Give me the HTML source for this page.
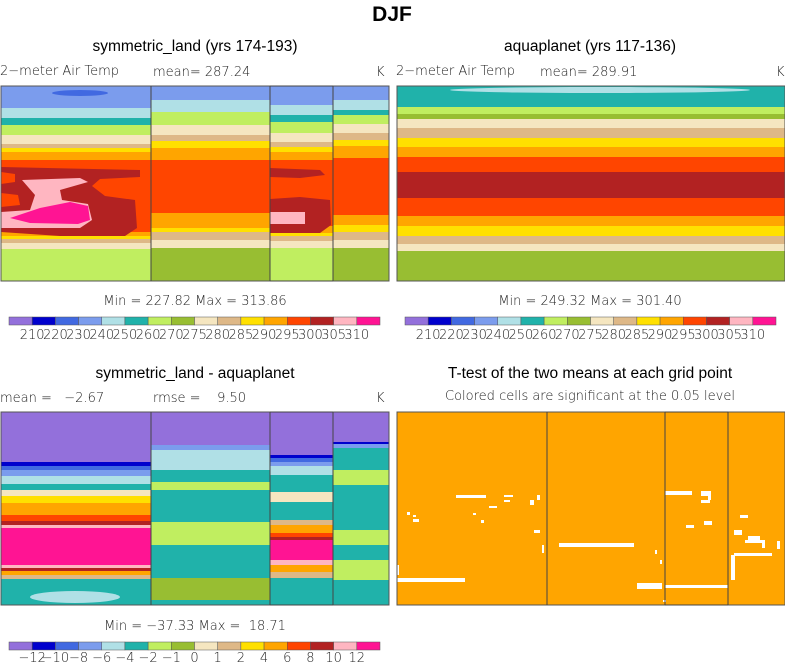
<!DOCTYPE html>
<html><head><meta charset="utf-8">
<style>
html,body{margin:0;padding:0;background:#fff;}
svg{display:block;}
.t{font-family:"Liberation Sans",sans-serif;}
.thin{font-family:"DejaVu Sans","Liberation Sans",sans-serif;font-weight:200;fill:#222;white-space:pre;}
</style></head>
<body>
<svg id="fig" width="785" height="664" viewBox="0 0 785 664" xmlns="http://www.w3.org/2000/svg" xml:space="preserve">
<text class="t" x="392" y="21" text-anchor="middle" font-size="21" font-weight="bold">DJF</text>
<text class="t" x="195" y="51" text-anchor="middle" font-size="15.5">symmetric_land (yrs 174-193)</text>
<text class="t" x="590" y="51" text-anchor="middle" font-size="15.5">aquaplanet (yrs 117-136)</text>
<text class="thin" x="0" y="75" font-size="13">2−meter Air Temp</text>
<text class="thin" x="153" y="76" font-size="13">mean= 287.24</text>
<text class="thin" x="376" y="76" font-size="13">K</text>
<text class="thin" x="396" y="75" font-size="13">2−meter Air Temp</text>
<text class="thin" x="540" y="76" font-size="13">mean= 289.91</text>
<text class="thin" x="776" y="76" font-size="13">K</text>
<text class="thin" x="195" y="305" text-anchor="middle" font-size="13">Min = 227.82 Max = 313.86</text>
<text class="thin" x="590" y="305" text-anchor="middle" font-size="13">Min = 249.32 Max = 301.40</text>
<text class="t" x="195" y="378" text-anchor="middle" font-size="15.5">symmetric_land - aquaplanet</text>
<text class="t" x="590" y="378" text-anchor="middle" font-size="15.5">T-test of the two means at each grid point</text>
<text class="thin" x="0" y="402" font-size="13">mean =   −2.67</text>
<text class="thin" x="153" y="402" font-size="13">rmse =    9.50</text>
<text class="thin" x="376" y="402" font-size="13">K</text>
<text class="thin" x="590" y="400" text-anchor="middle" font-size="13">Colored cells are significant at the 0.05 level</text>
<text class="thin" x="195" y="630" text-anchor="middle" font-size="13">Min = −37.33 Max =  18.71</text>
<g id="layer"></g>
</svg>
<script>
const palette = ["#9370DB","#0000CD","#4169E1","#7B9CED","#B0E0E6","#20B2AA","#C0EE60","#98BE32","#F5E6C0","#DEB887","#FFE000","#FFA500","#FF4500","#B22222","#FFB6C1","#FF1493"];
const absLabels = ["210","220","230","240","250","260","270","275","280","285","290","295","300","305","310"];
const diffLabels = ["−12","−10","−8","−6","−4","−2","−1","0","1","2","4","6","8","10","12"];
// Band boundaries (top y, colour index) per longitude section
const tlLand1 = [[86,3],[108,4],[118,5],[125,6],[135,8],[144,9],[148,10],[152,11],[160,12],[232,11],[236,10],[239,9],[243,8],[249,6]];
const tlOcean1 = [[86,3],[100,4],[112,6],[125,8],[135,9],[141,10],[148,11],[160,12],[213,11],[228,10],[232,9],[240,8],[248,7]];
const tlLand2 = [[86,3],[105,4],[115,5],[122,6],[133,8],[142,9],[147,10],[152,11],[160,12],[226,11],[233,10],[236,9],[241,8],[248,6]];
const tlOcean2 = [[86,3],[100,4],[110,5],[115,6],[124,8],[133,9],[140,10],[146,11],[158,12],[215,11],[225,10],[232,9],[240,8],[248,7]];
const aqua = [[86,5],[107,6],[114,7],[119,8],[128,9],[138,10],[147,11],[157,12],[172,13],[198,12],[216,11],[226,10],[236,9],[244,8],[251,7]];
const blLand1 = [[412,0],[462,1],[466,2],[470,3],[476,4],[484,5],[490,8],[496,10],[503,11],[515,12],[521,13],[525,14],[528,15],[565,14],[568,13],[571,11],[575,9],[579,5]];
const blOcean1 = [[412,0],[445,3],[450,4],[470,5],[482,6],[490,5],[522,6],[545,5],[578,7],[600,5]];
const blLand2 = [[412,0],[455,1],[458,2],[462,3],[466,4],[475,5],[492,8],[502,5],[520,9],[525,11],[533,12],[537,13],[540,15],[560,14],[565,11],[572,9],[578,5]];
const blOcean2 = [[412,0],[442,1],[444,3],[448,5],[470,6],[485,5],[530,6],[545,5],[560,6],[580,5]];
const ttestGaps = [[456,495,30,3],[504,495,9,2],[504,500,6,2],[537,495,3,5],[489,506,8,2],[473,513,3,2],[481,520,3,3],[396,578,69,4],[396,565,3,10],[559,543,75,4],[637,583,25,6],[665,585,63,3],[665,491,27,4],[701,491,10,5],[708,496,3,4],[701,500,9,3],[734,553,38,3],[731,555,4,25],[745,540,17,3],[762,540,3,8],[748,536,12,4],[734,530,8,5],[534,530,6,3],[704,521,8,4],[686,525,8,3],[542,545,2,8],[777,541,3,8],[407,512,3,3],[413,515,3,2],[413,519,6,3],[530,500,4,5],[740,515,8,3],[655,550,2,4],[660,560,2,4],[663,600,3,2]];

const NS="http://www.w3.org/2000/svg";
const layer=document.getElementById('layer');
function mk(tag,attrs,parent){const e=document.createElementNS(NS,tag);for(const k in attrs)e.setAttribute(k,attrs[k]);(parent||layer).appendChild(e);return e;}
function section(bands,x0,x1,yb,name){
  bands.forEach((b,i)=>{
    const y0=b[0], y1=i+1<bands.length?bands[i+1][0]:yb;
    const r=mk('rect',{x:x0,y:y0,width:x1-x0,height:y1-y0,fill:palette[b[1]]});
    
    
  });
}
// Panel 1
section(tlLand1,1,151,281,'p1-land1');
section(tlOcean1,151,270,281,'p1-ocean1');
section(tlLand2,270,333,281,'p1-land2');
section(tlOcean2,333,389,281,'p1-ocean2');
mk('ellipse',{cx:80,cy:93,rx:28,ry:3,fill:palette[2]});
mk('path',{d:"M1,167 L140,170 L140,177 L100,179 L92,186 L105,196 L135,200 L137,228 L125,236 L60,236 L1,232 Z",fill:palette[13]});
mk('path',{d:"M1,172 L15,174 L15,182 L1,184 Z",fill:palette[12]});
mk('path',{d:"M1,193 L18,195 L20,205 L1,207 Z",fill:palette[12]});
mk('path',{d:"M22,180 L80,178 L88,182 L60,190 L62,200 L88,204 L92,220 L80,228 L1,228 L1,212 L30,210 L35,195 Z",fill:palette[14]});
mk('path',{d:"M10,218 L40,208 L70,202 L88,206 L90,220 L78,224 L30,223 Z",fill:palette[15]});
mk('path',{d:"M270,168 L320,170 L325,175 L300,178 L270,177 Z",fill:palette[13]});
mk('path',{d:"M270,199 L300,197 L330,200 L331,225 L320,233 L270,233 Z",fill:palette[13]});
mk('path',{d:"M270,212 L305,212 L305,224 L270,224 Z",fill:palette[14]});
// Panel 2
section(aqua,397,785,281,'p2');
mk('ellipse',{cx:600,cy:90,rx:150,ry:3,fill:palette[4]});
// Panel 3
section(blLand1,1,151,605,'p3-land1');
section(blOcean1,151,270,605,'p3-ocean1');
section(blLand2,270,333,605,'p3-land2');
section(blOcean2,333,389,605,'p3-ocean2');
mk('ellipse',{cx:75,cy:597,rx:45,ry:6,fill:palette[4]});
// Panel 4
mk('rect',{x:397,y:412,width:388,height:193,fill:"#FFA500"});
ttestGaps.forEach(g=>{
  const r=mk('rect',{x:g[0],y:g[1],width:g[2],height:g[3],fill:"#fff"});
  
  
});
// frames and land outlines
[[1,86,388,195],[397,86,388,195],[1,412,388,193],[397,412,388,193]].forEach(f=>{
  const r=mk('rect',{x:f[0],y:f[1],width:f[2],height:f[3],fill:"none",stroke:"#555","stroke-width":1});
  
  
});
[[151,270,86,281],[151,270,412,605],[547,665,412,605]].forEach(b=>{
  mk('line',{x1:b[0],y1:b[2],x2:b[0],y2:b[3],stroke:"#444"});
  mk('line',{x1:b[1],y1:b[2],x2:b[1],y2:b[3],stroke:"#444"});
  mk('line',{x1:b[1],y1:b[2],x2:b[1]+63,y2:b[2],stroke:"#444"});
  mk('line',{x1:b[1]+63,y1:b[2],x2:b[1]+63,y2:b[3],stroke:"#444"});
  mk('line',{x1:b[1],y1:b[3],x2:b[1]+63,y2:b[3],stroke:"#444"});
});
// colorbars
function colorbar(x0,x1,y0,labels,name,dy){
  const w=(x1-x0)/palette.length;
  palette.forEach((c,i)=>{
    const r=mk('rect',{x:x0+i*w,y:y0,width:w,height:8,fill:c,stroke:"#555","stroke-width":0.5});
    
    
  });
  labels.forEach((l,i)=>{
    const t=mk('text',{x:x0+(i+1)*w,y:y0+dy,'text-anchor':'middle','font-size':13,class:'thin'});
    t.textContent=l;
    
    
  });
}
colorbar(9,380,317,absLabels,'colorbar1',22);
colorbar(405,776,317,absLabels,'colorbar2',22);
colorbar(9,380,642,diffLabels,'colorbar3',20);
</script>
</body></html>
